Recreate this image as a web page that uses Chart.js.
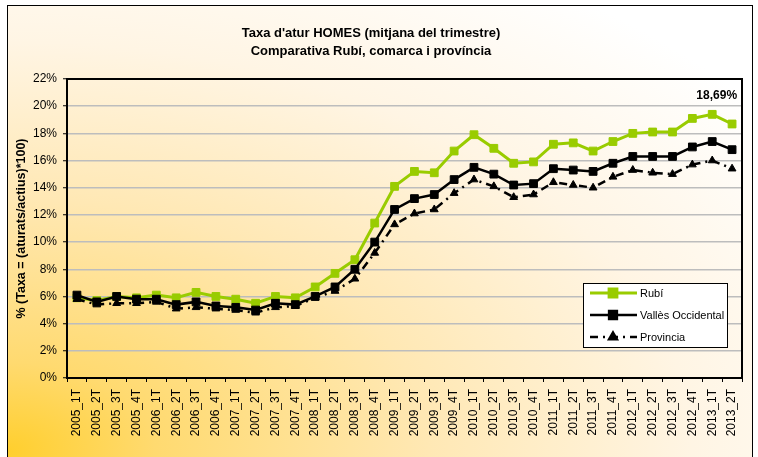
<!DOCTYPE html>
<html>
<head>
<meta charset="utf-8">
<script src="https://cdn.jsdelivr.net/npm/chart.js@4/dist/chart.umd.min.js"></script>
<style>
  html, body { margin: 0; padding: 0; background: #fff; }
  #wrap { position: relative; width: 758px; height: 457px; overflow: hidden; }
  #frame {
    position: absolute; left: 7px; top: 5px; width: 746px; height: 460px;
    border: 1px solid #000; box-sizing: border-box;
    background: radial-gradient(farthest-corner at 0% 97%, #FFCF2E 0%, #FFDA70 14%, #FFE8B4 40%, #FFF5E4 65%, #FFFFFF 90%);
  }
  #chart { position: absolute; left: 0; top: 0; }
</style>
</head>
<body>
<div id="wrap">
  <div id="frame"></div>
  <canvas id="chart" width="758" height="457"></canvas>
</div>
<script>
// quarters
const quarters = [
  '2005_1T', '2005_2T', '2005_3T', '2005_4T',
  '2006_1T', '2006_2T', '2006_3T', '2006_4T',
  '2007_1T', '2007_2T', '2007_3T', '2007_4T',
  '2008_1T', '2008_2T', '2008_3T', '2008_4T',
  '2009_1T', '2009_2T', '2009_3T', '2009_4T',
  '2010_1T', '2010_2T', '2010_3T', '2010_4T',
  '2011_1T', '2011_2T', '2011_3T', '2011_4T',
  '2012_1T', '2012_2T', '2012_3T', '2012_4T',
  '2013_1T', '2013_2T'
];

// taxa d'atur homes (%)
const rubi = [5.9, 5.7, 6.0, 5.9, 6.1, 5.9, 6.3, 6.0, 5.8, 5.5, 6.0, 5.9,
  6.7, 7.7, 8.7, 11.4, 14.1, 15.2, 15.1, 16.7, 17.9, 16.9, 15.8, 15.9,
  17.2, 17.3, 16.7, 17.4, 18.0, 18.1, 18.1, 19.1, 19.4, 18.69];
const valles = [6.1, 5.6, 6.0, 5.8, 5.8, 5.4, 5.6, 5.3, 5.2, 5.0, 5.5, 5.4,
  6.0, 6.7, 8.0, 10.0, 12.4, 13.2, 13.5, 14.6, 15.5, 15.0, 14.2, 14.3,
  15.4, 15.3, 15.2, 15.8, 16.3, 16.3, 16.3, 17.0, 17.4, 16.8];
const provincia = [5.8, 5.4, 5.5, 5.5, 5.6, 5.1, 5.2, 5.1, 5.0, 4.8, 5.2, 5.3,
  5.9, 6.4, 7.3, 9.2, 11.3, 12.1, 12.4, 13.6, 14.6, 14.1, 13.3, 13.5,
  14.4, 14.2, 14.0, 14.8, 15.3, 15.1, 15.0, 15.7, 16.0, 15.4];

const seriesNames = ['Rubí', 'Vallès Occidental', 'Provincia'];
const yTicks = { min: 0, max: 22, step: 2 };

const FONT = 'Arial, "Liberation Sans", sans-serif';
const GREEN = '#99CC00';

// black frame round the plot area
const plotFrame = {
  id: 'plotFrame',
  beforeDatasetsDraw(chart) {
    const a = chart.chartArea;
    const ctx = chart.ctx;
    ctx.save();
    ctx.strokeStyle = '#000';
    ctx.lineWidth = 2;
    ctx.strokeRect(a.left, a.top, a.right - a.left, a.bottom - a.top);
    ctx.restore();
  }
};

// label on the last Rubí point
const lastLabel = {
  id: 'lastLabel',
  afterDatasetsDraw(chart) {
    const meta = chart.getDatasetMeta(0);
    const pt = meta.data[meta.data.length - 1];
    const v = rubi[rubi.length - 1];
    const ctx = chart.ctx;
    ctx.save();
    ctx.font = 'bold 12px ' + FONT;
    ctx.fillStyle = '#000';
    ctx.textAlign = 'right';
    ctx.textBaseline = 'middle';
    ctx.fillText(v.toFixed(2).replace('.', ',') + '%', pt.x + 5, pt.y - 28);
    ctx.restore();
  }
};

// legend box inside the plot, bottom right
const boxLegend = {
  id: 'boxLegend',
  afterDraw(chart) {
    const a = chart.chartArea;
    const ctx = chart.ctx;
    const w = 144, h = 64;
    const x0 = a.right - 15 - w, y0 = a.bottom - 31 - h;
    ctx.save();
    ctx.fillStyle = '#fff';
    ctx.fillRect(x0, y0, w, h);
    ctx.strokeStyle = '#000';
    ctx.lineWidth = 1;
    ctx.strokeRect(x0 + 0.5, y0 + 0.5, w, h);
    chart.data.datasets.forEach((ds, i) => {
      const y = y0 + 10 + i * 22;
      ctx.save();
      ctx.strokeStyle = ds.borderColor;
      ctx.lineWidth = ds.borderWidth;
      ctx.setLineDash(ds.borderDash || []);
      ctx.beginPath();
      ctx.moveTo(x0 + 7, y);
      ctx.lineTo(x0 + 54, y);
      ctx.stroke();
      ctx.setLineDash([]);
      ctx.fillStyle = ds.pointBackgroundColor;
      ctx.strokeStyle = ds.pointBorderColor;
      Chart.helpers.drawPoint(ctx, {
        pointStyle: ds.pointStyle, radius: ds.pointRadius,
        borderWidth: ds.pointBorderWidth, rotation: 0
      }, x0 + 30, y);
      ctx.restore();
      ctx.fillStyle = '#000';
      ctx.font = '11px ' + FONT;
      ctx.textAlign = 'left';
      ctx.textBaseline = 'middle';
      ctx.fillText(ds.label, x0 + 57, y + 1);
    });
    ctx.restore();
  }
};

new Chart(document.getElementById('chart'), {
  type: 'line',
  data: {
    labels: quarters,
    datasets: [{
      label: seriesNames[0],
      data: rubi,
      borderColor: GREEN,
      borderWidth: 3,
      pointStyle: 'rect',
      pointRadius: 5.5,
      pointBackgroundColor: GREEN,
      pointBorderColor: GREEN,
      pointBorderWidth: 1,
      tension: 0,
      order: 3
    }, {
      label: seriesNames[1],
      data: valles,
      borderColor: '#000',
      borderWidth: 2.5,
      pointStyle: 'rect',
      pointRadius: 5.5,
      pointBackgroundColor: '#000',
      pointBorderColor: '#000',
      pointBorderWidth: 1,
      tension: 0,
      order: 2
    }, {
      label: seriesNames[2],
      data: provincia,
      borderColor: '#000',
      borderWidth: 2.5,
      borderDash: [8, 5, 2, 5],
      pointStyle: 'triangle',
      pointRadius: 4.5,
      pointBackgroundColor: '#000',
      pointBorderColor: '#000',
      pointBorderWidth: 1,
      tension: 0,
      order: 1
    }]
  },
  options: {
    responsive: false,
    animation: false,
    layout: { padding: { left: 0, right: 16, top: 0, bottom: 0 } },
    plugins: {
      legend: { display: false },
      tooltip: { enabled: false },
      title: {
        display: true,
        text: ["Taxa d'atur HOMES (mitjana del trimestre)", 'Comparativa Rubí, comarca i província'],
        color: '#000',
        font: { family: FONT, size: 13, weight: 'bold', lineHeight: 1.4 },
        padding: { top: 24, bottom: 18.6 }
      }
    },
    scales: {
      x: {
        offset: true,
        grid: {
          offset: true, drawOnChartArea: false, drawTicks: true,
          tickLength: 4, tickColor: '#000', tickWidth: 1
        },
        border: { color: '#000', width: 2 },
        ticks: {
          autoSkip: false, minRotation: 90, maxRotation: 90,
          padding: 7, color: '#000',
          font: { family: FONT, size: 12 }
        },
        afterFit(scale) { scale.height = 79; }
      },
      y: {
        min: yTicks.min,
        max: yTicks.max,
        grid: {
          color: '#BDBDBD', lineWidth: 1.5,
          borderDash: [4, 3],
          tickLength: 4, tickColor: '#000', tickWidth: 1, tickBorderDash: []
        },
        border: { color: '#000', width: 2 },
        ticks: {
          stepSize: yTicks.step, padding: 6, color: '#000',
          font: { family: FONT, size: 12 },
          callback: v => v + '%'
        },
        title: {
          display: true,
          text: '% (Taxa = (aturats/actius)*100)',
          color: '#000',
          font: { family: FONT, size: 12.5, weight: 'bold' },
          padding: { top: 14, bottom: 0 }
        },
        afterFit(scale) { scale.width = 67; }
      }
    }
  },
  plugins: [plotFrame, lastLabel, boxLegend]
});
</script>
</body>
</html>
